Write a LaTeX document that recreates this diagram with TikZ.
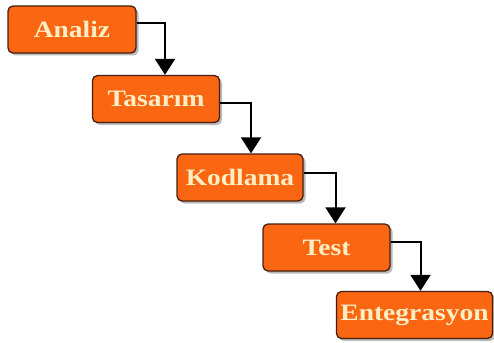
\documentclass[tikz,border=0pt]{standalone}
\usepackage{fontspec}
\newfontfamily\boxfont[FakeStretch=1.17]{Liberation Serif}
\usetikzlibrary{arrows.meta,shadows}
\definecolor{boxorange}{RGB}{250,102,18}
\definecolor{boxedge}{RGB}{70,30,15}
\definecolor{boxtext}{RGB}{255,238,195}
\tikzset{
  phase/.style={draw=boxedge, line width=1.3pt, fill=boxorange, rounded corners=5pt,
    minimum height=47pt, inner sep=0pt, text=boxtext,
    font=\boxfont\bfseries\fontsize{23.5}{26}\selectfont,
    drop shadow={shadow xshift=2.5pt, shadow yshift=-2.5pt, opacity=0.45, fill=black!60}},
  flow/.style={line width=2pt, -{Triangle[width=20pt,length=16pt]}}
}
\begin{document}
\begin{tikzpicture}[x=1pt,y=-1pt]
  \useasboundingbox (0,0) rectangle (494,342);
  \node[phase, minimum width=128pt] (analiz) at (72,29.5) {Analiz};
  \node[phase, minimum width=127pt] (tasarim) at (156,99) {Tasarım};
  \node[phase, minimum width=126pt] (kodlama) at (240,177.5) {Kodlama};
  \node[phase, minimum width=127pt] (test) at (326.5,247.5) {Test};
  \node[phase, minimum width=156pt] (entegrasyon) at (414.5,315) {Entegrasyon};
  \draw[flow] ([yshift=6pt]analiz.east) -| ([xshift=9pt]tasarim.north);
  \draw[flow] ([yshift=-4pt]tasarim.east) -| ([xshift=11pt]kodlama.north);
  \draw[flow] ([yshift=5pt]kodlama.east) -| ([xshift=9pt]test.north);
  \draw[flow] ([yshift=6pt]test.east) -| ([xshift=6pt]entegrasyon.north);
\end{tikzpicture}
\end{document}
